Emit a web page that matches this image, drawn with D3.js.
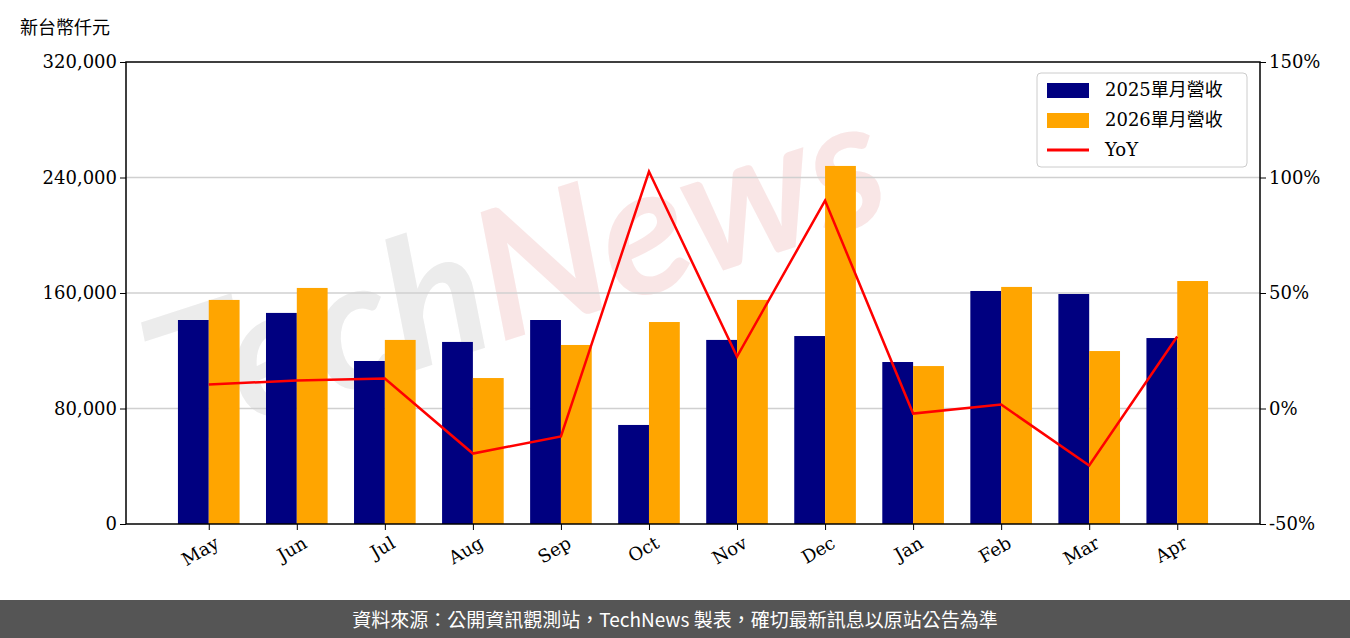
<!DOCTYPE html>
<html><head><meta charset="utf-8">
<script src="https://cdn.jsdelivr.net/npm/d3@7"></script>
<style>body{margin:0;background:#fff}</style>
</head><body><svg id="c" width="1350" height="638"></svg>
<script>
const months = ["May","Jun","Jul","Aug","Sep","Oct","Nov","Dec","Jan","Feb","Mar","Apr"];
const rev2025 = [141300,146200,112900,126100,141300,68600,127500,130200,112200,161400,159300,128800];
const rev2026 = [155200,163500,127500,101100,124000,139900,155200,248000,109400,164200,119800,168300];
const yoy = [10.4,12.1,13.0,-19.5,-12.1,102.6,22.5,90.0,-2.2,1.7,-24.7,31.2];
const leftTicks = [0,80000,160000,240000,320000];
const rightTicks = [-50,0,50,100,150];

const svg = d3.select("#c");
const L=126,R=1260,T=62,B=524;
const serif = "DejaVu Serif";
const x = d3.scaleLinear().domain([-0.94,11.94]).range([L,R]);
const y = d3.scaleLinear().domain([0,320000]).range([B,T]);
const y2 = d3.scaleLinear().domain([-50,150]).range([B,T]);
const bw = 0.35*(x(1)-x(0));

// watermark
const wm = svg.append("text").attr("transform","translate(170,450) rotate(-18)")
  .attr("font-family","Lato").attr("font-style","italic").attr("font-weight","bold").attr("font-size",180);
wm.append("tspan").attr("fill","#e4e4e4").attr("opacity",0.7).text("Tech");
wm.append("tspan").attr("fill","#f6d6d6").attr("opacity",0.6).text("News");

svg.append("g").selectAll("line").data(leftTicks.slice(1,-1)).join("line")
  .attr("x1",L).attr("x2",R).attr("y1",d=>y(d)).attr("y2",d=>y(d)).attr("stroke","#d0d0d0").attr("stroke-width",1.3);

svg.append("g").selectAll("rect").data(rev2025).join("rect")
  .attr("x",(d,i)=>x(i)-bw).attr("width",bw).attr("y",d=>y(d)).attr("height",d=>B-y(d)).attr("fill","#000080");
svg.append("g").selectAll("rect").data(rev2026).join("rect")
  .attr("x",(d,i)=>x(i)).attr("width",bw).attr("y",d=>y(d)).attr("height",d=>B-y(d)).attr("fill","#ffa500");

svg.append("path").datum(yoy).attr("fill","none").attr("stroke","#ff0000").attr("stroke-width",2.5)
  .attr("d",d3.line().x((d,i)=>x(i)).y(d=>y2(d)));

svg.append("rect").attr("x",L).attr("y",T).attr("width",R-L).attr("height",B-T).attr("fill","none").attr("stroke","#000").attr("stroke-width",1.5);

const ax = svg.append("g").attr("transform",`translate(0,${B})`)
  .call(d3.axisBottom(x).tickValues(d3.range(12)).tickFormat(i=>months[i]).tickSizeOuter(0));
ax.select(".domain").remove();
ax.selectAll("text").attr("font-family",serif).attr("font-size",18).attr("fill","#000")
  .attr("text-anchor","end").attr("dx","-0.1em").attr("dy","0.9em").attr("transform","rotate(-30)");
const ay = svg.append("g").attr("transform",`translate(${L},0)`)
  .call(d3.axisLeft(y).tickValues(leftTicks).tickFormat(d3.format(",")));
ay.select(".domain").remove();
ay.selectAll("text").attr("font-family",serif).attr("font-size",18).attr("fill","#000");
const ay2 = svg.append("g").attr("transform",`translate(${R},0)`)
  .call(d3.axisRight(y2).tickValues(rightTicks).tickFormat(d=>d+"%"));
ay2.select(".domain").remove();
ay2.selectAll("text").attr("font-family",serif).attr("font-size",18).attr("fill","#000");

svg.append("text").attr("x",20).attr("y",34).attr("font-family","Noto Sans CJK TC").attr("font-size",18).text("新台幣仟元");

// legend
const lg = svg.append("g").attr("transform","translate(1037,73)");
lg.append("rect").attr("width",210).attr("height",94).attr("rx",4).attr("fill","#fff").attr("fill-opacity",0.85).attr("stroke","#ccc");
const items=[["2025單月營收","#000080","bar"],["2026單月營收","#ffa500","bar"],["YoY","#ff0000","line"]];
items.forEach(([t,c,k],i)=>{
  const g=lg.append("g").attr("transform",`translate(10,${17+i*30})`);
  if(k==="bar") g.append("rect").attr("x",0).attr("y",-7).attr("width",42).attr("height",15).attr("fill",c);
  else g.append("line").attr("x1",0).attr("x2",42).attr("stroke",c).attr("stroke-width",3);
  g.append("text").attr("x",58).attr("y",6).attr("font-family","DejaVu Serif, Noto Sans CJK TC").attr("font-size",18).text(t);
});

svg.append("rect").attr("x",0).attr("y",600).attr("width",1350).attr("height",38).attr("fill","#555");
svg.append("text").attr("x",675).attr("y",627).attr("text-anchor","middle").attr("fill","#fff")
  .attr("font-family","Noto Sans CJK TC").attr("font-size",19).text("資料來源：公開資訊觀測站，TechNews 製表，確切最新訊息以原站公告為準");
</script></body></html>
